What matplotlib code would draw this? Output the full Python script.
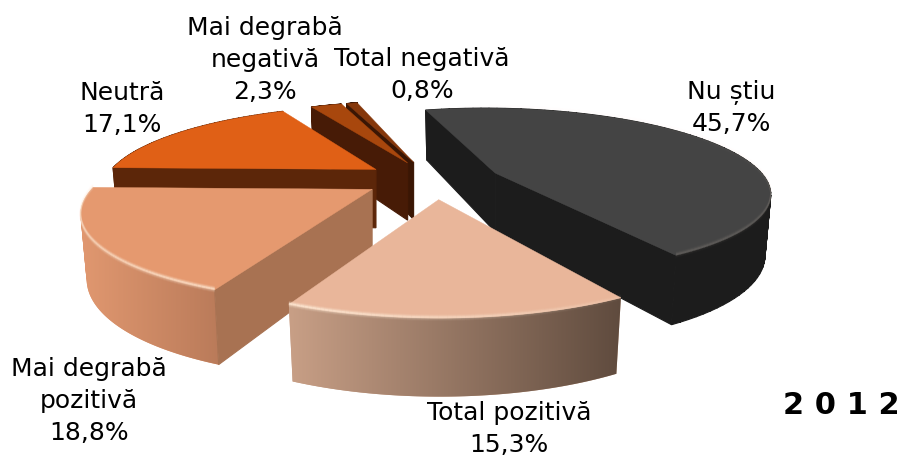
import numpy as np
import matplotlib
matplotlib.use('Agg')
import matplotlib.pyplot as plt
from matplotlib.patches import Polygon, PathPatch
from matplotlib.path import Path
from matplotlib.collections import LineCollection
from matplotlib.colors import LinearSegmentedColormap

# date
labels = ['Nu știu', 'Total pozitivă', 'Mai degrabă\npozitivă', 'Neutră', 'Mai degrabă\nnegativă', 'Total negativă']
values = [45.7, 15.3, 18.8, 17.1, 2.3, 0.8]
year = '2 0 1 2'

# stil
top_colors = ['#444444', '#E9B69A', '#E5996F', '#E06016', '#A8470D', '#85370B']
wall_left = ['#1C1C1C', '#C89F86', '#E19870', '#5C2609', '#471B06', '#3A1604']
wall_right = ['#1C1C1C', '#5F4B3E', '#BA7B5A', '#5C2609', '#471B06', '#3A1604']
side_colors = ['#1C1C1C', '#1C1C1C', '#A87252', '#5C2609', '#471B06', '#3A1604']
explode = [0.25, 0.25, 0.27, 0.25, 0.25, 0.25]
rot_fix = [2.5, 3, 2, 2, 2, 2]
nudge = [(6, 0), (7, -3), (8, -4), (4, -1), (5, 0), (5, 0)]
rim_alpha = [(0.0, 0.1), (0.1, 0.75), (0.65, 0.3), (0, 0), (0, 0), (0, 0)]
draw_order = [0, 5, 4, 3, 2, 1]

start_angle = -18
cx, cy = 428, 181
A, B, k = 272, 82, 0.215
depth = 60
shrink = 0.98


def project(x, y, nx, ny, bottom=False):
    d = 1 + k * y
    px = A * x / d
    py = -B * y / d
    if bottom:
        return cx + nx + px, cy + ny + py + depth / d
    return cx + nx + px, cy + ny + py


def slice_points(a1, a2, e, nudge_xy, bottom=False):
    mid = np.radians((a1 + a2) / 2)
    ox, oy = e * np.sin(mid), e * np.cos(mid)
    ang = np.radians(np.linspace(a1, a2, 80))
    r = shrink if bottom else 1.0
    ax_, ay_ = project(ox, oy, *nudge_xy, bottom)
    xs, ys = project(ox + r * np.sin(ang), oy + r * np.cos(ang), *nudge_xy, bottom)
    return np.array([ax_, ay_]), np.column_stack([xs, ys])


def strip_path(top, bot):
    # banda din patrulatere, toate cu aceeasi orientare
    verts, codes = [], []
    for j in range(len(top) - 1):
        q = np.array([top[j], top[j + 1], bot[j + 1], bot[j]])
        area = np.sum(q[:, 0] * np.roll(q[:, 1], -1) - np.roll(q[:, 0], -1) * q[:, 1])
        if area < 0:
            q = q[::-1]
        verts.extend(list(q) + [q[0]])
        codes.extend([Path.MOVETO, Path.LINETO, Path.LINETO, Path.LINETO, Path.CLOSEPOLY])
    return Path(np.array(verts), codes)


fig = plt.figure(figsize=(9.03, 4.58), dpi=100)
ax = fig.add_axes([0, 0, 1, 1])
ax.set_xlim(0, 903)
ax.set_ylim(458, 0)
ax.axis('off')

angles = np.cumsum([0] + [v / sum(values) * 360 for v in values]) + start_angle
z = 2


def wall_needed(p, q, inner):
    # perete vizibil doar daca interiorul feliei e deasupra muchiei
    if abs(q[0] - p[0]) < 1e-6:
        return False
    y_edge = p[1] + (q[1] - p[1]) * (inner[0] - p[0]) / (q[0] - p[0])
    return inner[1] < y_edge


for i in draw_order:
    a1, a2 = angles[i] + rot_fix[i], angles[i + 1] + rot_fix[i]
    apex, arc = slice_points(a1, a2, explode[i], nudge[i])
    apex_b, arc_b = slice_points(a1, a2, explode[i], nudge[i], bottom=True)
    inner = (apex + arc[len(arc) // 2]) / 2

    # peretele curb, cu gradient pe orizontala daca are doua culori
    if wall_left[i] == wall_right[i]:
        ax.add_patch(PathPatch(strip_path(arc, arc_b), fc=wall_left[i], ec=wall_left[i],
                               lw=0.8, zorder=z))
    else:
        wall = PathPatch(strip_path(arc, arc_b), fc=wall_left[i], ec='none', zorder=z)
        ax.add_patch(wall)
        xs = np.concatenate([arc[:, 0], arc_b[:, 0]])
        ys = np.concatenate([arc[:, 1], arc_b[:, 1]])
        cmap = LinearSegmentedColormap.from_list('w', [wall_left[i], wall_right[i]])
        im = ax.imshow(np.linspace(0, 1, 256).reshape(1, -1), cmap=cmap, aspect='auto',
                       extent=[xs.min(), xs.max(), ys.max(), ys.min()], zorder=z)
        im.set_clip_path(wall)
    z += 1

    # peretii radiali
    for end, end_b in ((arc[0], arc_b[0]), (arc[-1], arc_b[-1])):
        if wall_needed(apex, end, inner):
            ax.add_patch(Polygon([apex, end, end_b, apex_b], closed=True,
                                 fc=side_colors[i], ec=side_colors[i], lw=0.8, zorder=z))
            z += 1

    # fata de sus
    ax.add_patch(Polygon(np.vstack([apex, arc]), closed=True, fc=top_colors[i],
                         ec=top_colors[i], lw=0.3, zorder=z))
    z += 1

    # lumina pe margine
    al = np.linspace(rim_alpha[i][0], rim_alpha[i][1], len(arc) - 1)
    if al.max() > 0:
        for off, w in ((-3, 0.2), (-2, 0.5), (-1, 1.0), (0, 0.6), (1, 0.3), (2, 0.12)):
            pts = arc + [0, off]
            segs = np.stack([pts[:-1], pts[1:]], axis=1)
            cols = np.zeros((len(segs), 4))
            cols[:, :3] = 1, 0.93, 0.85
            cols[:, 3] = al * w
            ax.add_collection(LineCollection(segs, colors=cols, linewidths=1.1, zorder=z))
            z += 1

ax.set_xlim(0, 903)
ax.set_ylim(458, 0)

font = 'DejaVu Sans'
fs = 18
label_pos = [(731, 108), (509, 429), (89, 401), (122, 109), (265, 60), (422, 75)]
for i in range(len(values)):
    txt = labels[i] + '\n' + f'{values[i]:.1f}'.replace('.', ',') + '%'
    ax.text(label_pos[i][0], label_pos[i][1], txt, ha='center', va='center',
            fontsize=fs, family=font, color='black', linespacing=1.42, zorder=100)

ax.text(900, 405, year, ha='right', va='center', fontsize=22, family='DejaVu Sans',
        fontweight='bold', color='black', zorder=100)

plt.savefig('out.png', dpi=100)
